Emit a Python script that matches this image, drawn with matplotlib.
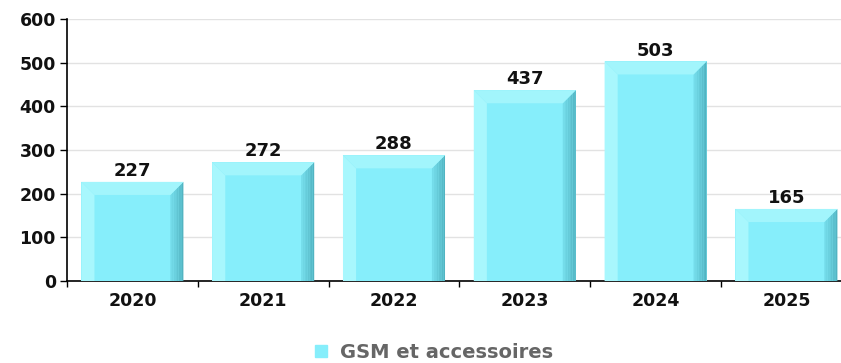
import matplotlib.pyplot as plt
from matplotlib.patches import Polygon
from matplotlib.lines import Line2D
import numpy as np

years = ["2020", "2021", "2022", "2023", "2024", "2025"]
values = [227, 272, 288, 437, 503, 165]
series_name = "GSM et accessoires"

face = "#86eefb"
light = "#a8f7fd"
top_col = "#a2f5fc"
dark_from = np.array([0x74, 0xdc, 0xea]) / 255
dark_to = np.array([0x52, 0xb4, 0xc2]) / 255

fig = plt.figure(figsize=(8.41, 3.63), dpi=100)
ax = fig.add_axes([67 / 841, 82 / 363, 784.8 / 841, 262 / 363])

x = np.arange(len(years))
width = 0.78
dx = 0.1      # side bevel, data units
dy = 30       # top bevel, data units

ax.set_xlim(-0.5, len(years) - 0.5)
ax.set_ylim(0, 600)

bars = ax.bar(x, values, width=width, color=face, zorder=3, linewidth=0)
for b, v in zip(bars, values):
    x0 = b.get_x()
    x1 = x0 + b.get_width()
    # left bevel
    ax.add_patch(Polygon([(x0, 0), (x0, v), (x0 + dx, v - dy), (x0 + dx, 0)],
                         closed=True, color=light, lw=0, zorder=4))
    # right bevel, shaded in strips
    n = 8
    for i in range(n):
        a = x1 - dx + dx * i / n
        c = x1 - dx + dx * (i + 1) / n
        col = dark_from + (dark_to - dark_from) * i / (n - 1)
        ya = v - dy * (x1 - a) / dx
        yc = v - dy * (x1 - c) / dx
        ax.add_patch(Polygon([(a, 0), (a, ya), (c, yc), (c, 0)],
                             closed=True, color=col, lw=0, zorder=4))
    # top bevel
    ax.add_patch(Polygon([(x0, v), (x1, v), (x1 - dx, v - dy), (x0 + dx, v - dy)],
                         closed=True, color=top_col, lw=0, zorder=5))
    ax.text(b.get_x() + b.get_width() / 2, v + 4, str(v), ha="center", va="bottom",
            fontsize=13, fontweight="bold", color="#111111", zorder=6)

ax.set_yticks(np.arange(0, 601, 100))
ax.yaxis.grid(True, color="#e2e2e2", lw=1, zorder=0)
ax.set_axisbelow(True)
ax.set_xticks(x)
ax.set_xticklabels(years)
ax.set_xticks(np.arange(-0.5, len(years)), minor=True)
ax.tick_params(axis="x", which="major", length=0, pad=8)
ax.tick_params(axis="x", which="minor", length=4, width=1, direction="out")
ax.tick_params(axis="y", length=5, width=1, pad=3)
for lab in ax.get_xticklabels() + ax.get_yticklabels():
    lab.set_fontweight("bold")
    lab.set_fontsize(12.5)
    lab.set_color("#111111")

for s in ["top", "right"]:
    ax.spines[s].set_visible(False)
ax.spines["left"].set_linewidth(1.2)
ax.spines["bottom"].set_linewidth(1.2)

handle = Line2D([], [], marker="s", color=face, markersize=8, lw=0)
fig.legend([handle], [series_name], loc="center", bbox_to_anchor=(433 / 841, 1 - 352 / 363),
           frameon=False, handlelength=0.8, handletextpad=0.6,
           prop={"weight": "bold", "size": 14}, labelcolor="#666666")

fig.savefig("out.png", dpi=100)
